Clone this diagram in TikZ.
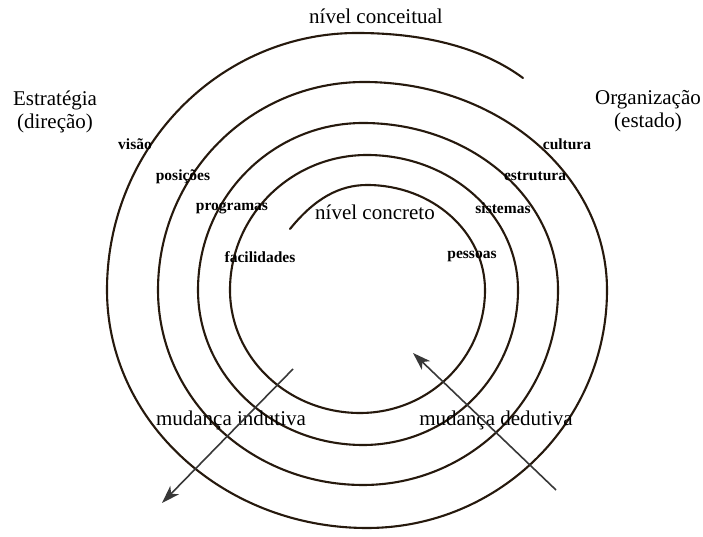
\documentclass[tikz,border=0pt]{standalone}
\usepackage{fontspec}
\setmainfont{Liberation Serif}
\usetikzlibrary{arrows.meta}
\begin{document}
\begin{tikzpicture}[x=1pt,y=1pt,
  spiral/.style={draw=black!80!brown, line width=2.1pt, line cap=round},
  bigtxt/.style={font=\fontsize{21}{23}\selectfont, inner sep=0pt, align=center},
  smalltxt/.style={font=\fontsize{15.5}{17}\selectfont\bfseries, inner sep=0pt},
  change/.style={draw=black!78, line width=1.6pt, -{Stealth[length=18pt,width=12pt,inset=5pt]}}]
\fill[white] (0,0) rectangle (703,537);
\useasboundingbox (0,0) rectangle (703,537);
% spiral
\draw[spiral] (290,308) .. controls (315,339) and (340,352) .. (367,352)
  arc[start angle=90, end angle=0, x radius=118, y radius=105]
  arc[start angle=0, end angle=-90, x radius=125, y radius=123]
  arc[start angle=-90, end angle=-180, x radius=130, y radius=123]
  arc[start angle=180, end angle=90, x radius=137, y radius=135]
  arc[start angle=90, end angle=0, x radius=151, y radius=135]
  arc[start angle=0, end angle=-90, x radius=155, y radius=155]
  arc[start angle=-90, end angle=-180, x radius=165, y radius=155]
  arc[start angle=180, end angle=90, x radius=165, y radius=167]
  arc[start angle=90, end angle=0, x radius=195, y radius=167]
  arc[start angle=0, end angle=-90, x radius=195, y radius=195]
  arc[start angle=-90, end angle=-180, x radius=205, y radius=195]
  arc[start angle=180, end angle=90, x radius=206, y radius=208]
  arc[start angle=90, end angle=0, x radius=243, y radius=208]
  arc[start angle=0, end angle=-90, x radius=240, y radius=238]
  arc[start angle=-90, end angle=-180, x radius=260, y radius=238]
  arc[start angle=180, end angle=90, x radius=250, y radius=257]
  .. controls (430,504) and (485,487) .. (523,459);
% labels
\node[bigtxt] (conceitual) at (376,521) {nível conceitual};
\node[bigtxt] (concreto) at (375,325) {nível concreto};
\node[bigtxt] (estrategia) at (55,425.5) {Estratégia\\(direção)};
\node[bigtxt] (organizacao) at (648,425.5) {Organização\\(estado)};
\node[bigtxt] (indutiva) at (231,117) {mudança indutiva};
\node[bigtxt] (dedutiva) at (496,117) {mudança dedutiva};
\node[smalltxt] (visao) at (135,393) {visão};
\node[smalltxt] (posicoes) at (183,360) {posições};
\node[smalltxt] (programas) at (232,329) {programas};
\node[smalltxt] (facilidades) at (260,280) {facilidades};
\node[smalltxt] (cultura) at (567,393) {cultura};
\node[smalltxt] (estrutura) at (535,361) {estrutura};
\node[smalltxt] (sistemas) at (503,329) {sistemas};
\node[smalltxt] (pessoas) at (472,280) {pessoas};
% arrows
\coordinate (indA) at (293,168);
\coordinate (indB) at (162,34);
\coordinate (dedA) at (556,47);
\coordinate (dedB) at (413,184);
\draw[change] (indA) -- (indB);
\draw[change] (dedA) -- (dedB);
\end{tikzpicture}
\end{document}
